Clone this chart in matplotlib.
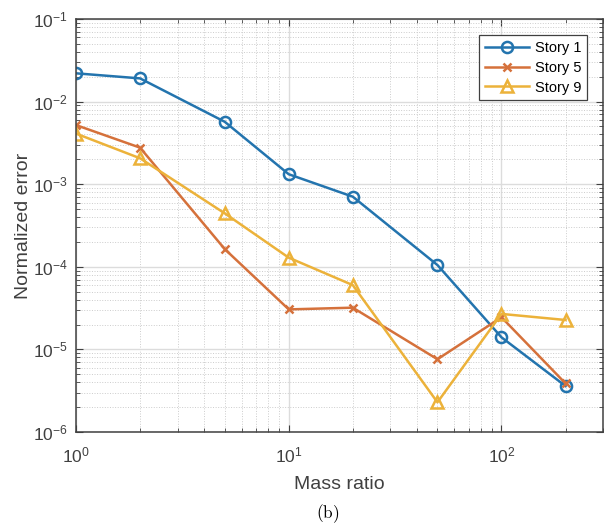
import matplotlib
matplotlib.use("Agg")
import matplotlib.pyplot as plt

# Massisuhted ja normaliseeritud vead korruste kaupa
mass_ratio = [1, 2, 5, 10, 20, 50, 100, 200]
story_1 = [2.2e-2, 1.91e-2, 5.7e-3, 1.32e-3, 7.06e-4, 1.05e-4, 1.40e-5, 3.6e-6]
story_5 = [5.2e-3, 2.77e-3, 1.64e-4, 3.05e-5, 3.2e-5, 7.6e-6, 2.45e-5, 3.87e-6]
story_9 = [4.1e-3, 2.06e-3, 4.44e-4, 1.29e-4, 6.0e-5, 2.29e-6, 2.69e-5, 2.27e-5]
labels = ["Story 1", "Story 5", "Story 9"]

plt.rcParams["font.family"] = ["Liberation Sans", "DejaVu Sans"]
plt.rcParams["mathtext.fontset"] = "custom"
plt.rcParams["mathtext.rm"] = "Liberation Sans"
plt.rcParams["mathtext.it"] = "Liberation Sans:italic"

fig = plt.figure(figsize=(6.04, 5.26), dpi=100)
ax = fig.add_axes([76 / 604, 1 - 432 / 526, 527 / 604, 413 / 526])

ax.plot(mass_ratio, story_1, color="#2374ae", lw=1.8, marker="o", ms=8,
        mfc="none", mew=1.8, label=labels[0])
ax.plot(mass_ratio, story_5, color="#d5713b", lw=1.8, marker="x", ms=6,
        mew=1.8, label=labels[1])
ax.plot(mass_ratio, story_9, color="#ecb23a", lw=1.8, marker="^", ms=9,
        mfc="none", mew=1.8, label=labels[2])

ax.set_xscale("log")
ax.set_yscale("log")
ax.set_xlim(1, 300)
ax.set_ylim(1e-6, 1e-1)

ax.grid(True, which="major", color="#dcdcdc", lw=1.0)
ax.grid(True, which="minor", color="#cccccc", lw=0.7, linestyle=":")
ax.set_axisbelow(True)

for s in ax.spines.values():
    s.set_color("#404040")
    s.set_linewidth(1.1)
ax.tick_params(which="both", direction="in", top=True, right=True,
               colors="#404040", labelsize=12.5, labelcolor="#404040")
ax.tick_params(which="major", length=5)
ax.tick_params(which="minor", length=3)
ax.tick_params(axis="x", pad=10)
ax.tick_params(axis="y", pad=6)

ax.set_xlabel("Mass ratio", fontsize=14, color="#404040", labelpad=7)
ax.set_ylabel("Normalized error", fontsize=14, color="#404040")
ax.yaxis.set_label_coords(-0.083, 0.5)

leg = ax.legend(loc="upper right", fontsize=10.5, fancybox=False,
                edgecolor="#404040", framealpha=1, handlelength=3.0,
                handletextpad=0.4, borderaxespad=1.1, labelspacing=0.4)
leg.get_frame().set_linewidth(0.9)

fig.text(0.543, 1 - 514 / 526, r"$\mathrm{(b)}$", fontsize=12.5, ha="center",
         va="center", math_fontfamily="cm")

fig.savefig("out.png", dpi=100)
